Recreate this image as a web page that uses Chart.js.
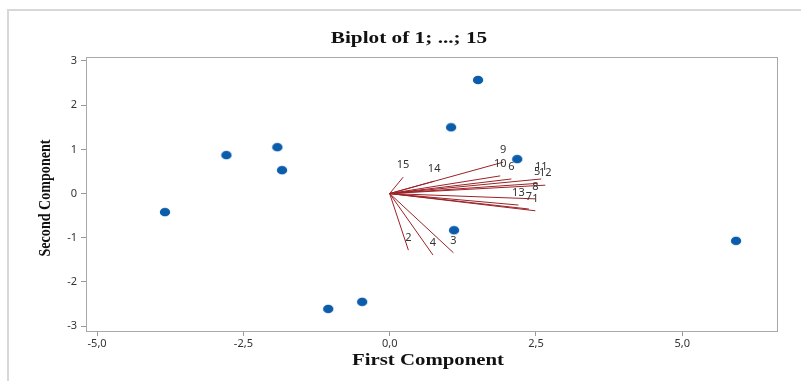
<!DOCTYPE html>
<html>
<head>
<meta charset="utf-8">
<script src="https://cdn.jsdelivr.net/npm/chart.js@4/dist/chart.umd.min.js"></script>
<style>
  html, body { margin: 0; padding: 0; background: #fff; }
  #wrap { width: 801px; height: 381px; }
</style>
</head>
<body>
<div id="wrap"><canvas id="biplot" width="801" height="381"></canvas></div>
<script>
// Scores (observations)
const scoreX = [1.51, 1.05, -1.92, -2.79, -1.84, -3.84, 2.18, 1.10, 5.92, -0.47, -1.05];
const scoreY = [2.57, 1.50, 1.05, 0.87, 0.53, -0.42, 0.78, -0.83, -1.07, -2.45, -2.61];

// Loadings (variables 1..15)
const loadNames = ["1", "2", "3", "4", "5", "6", "7", "8", "9", "10", "11", "12", "13", "14", "15"];
const loadX = [2.49, 0.32, 1.09, 0.74, 2.52, 2.08, 2.38, 2.49, 1.94, 1.89, 2.59, 2.66, 2.20, 0.76, 0.23];
const loadY = [-0.39, -1.28, -1.34, -1.39, 0.23, 0.33, -0.35, -0.12, 0.71, 0.40, 0.33, 0.19, -0.26, 0.28, 0.37];

// Tick labels
const xTicks = [-5, -2.5, 0, 2.5, 5];
const yTicks = [-3, -2, -1, 0, 1, 2, 3];

const RED = "#9b2226";
const BLUE = "#0b5cab";

// ellipse marker, a bit wider than tall like the original
function dotImage() {
  const c = document.createElement("canvas");
  c.width = 12; c.height = 10;
  const g = c.getContext("2d");
  g.fillStyle = BLUE;
  g.beginPath();
  g.ellipse(6, 5, 5.2, 4.3, 0, 0, Math.PI * 2);
  g.fill();
  return c;
}

const datasets = [];
datasets.push({
  label: "scores",
  data: scoreX.map((x, i) => ({ x: x, y: scoreY[i] })),
  pointStyle: dotImage(),
  showLine: false,
  order: 0
});
loadX.forEach((x, i) => {
  datasets.push({
    label: "v" + loadNames[i],
    data: [{ x: 0, y: 0 }, { x: x, y: loadY[i] }],
    showLine: true,
    borderColor: RED,
    borderWidth: 1,
    pointRadius: 0,
    order: 1
  });
});

// stretched serif text, the original titles are wide (or narrow for the y one)
function wideText(ctx, txt, x, y, size, sx, rot) {
  ctx.save();
  ctx.translate(x, y);
  if (rot) ctx.rotate(rot);
  ctx.scale(sx, 1);
  ctx.font = "bold " + size + "px 'Liberation Serif', 'Times New Roman', serif";
  ctx.fillText(txt, 0, 0);
  ctx.restore();
}

// outer frame, plot box, titles and vector labels
const decor = {
  id: "decor",
  beforeDraw(chart) {
    const ctx = chart.ctx;
    ctx.save();
    ctx.strokeStyle = "#d8d8d8";
    ctx.lineWidth = 2;
    ctx.strokeRect(8, 10, 900, 900);
    ctx.restore();
  },
  afterDraw(chart) {
    const ctx = chart.ctx;
    const a = chart.chartArea;
    const xs = chart.scales.x, ys = chart.scales.y;
    ctx.save();
    ctx.strokeStyle = "#a8a8a8";
    ctx.lineWidth = 1;
    ctx.strokeRect(a.left + 0.5, a.top + 0.5, a.right - a.left, a.bottom - a.top);

    ctx.fillStyle = "#111";
    ctx.textAlign = "center";
    ctx.textBaseline = "middle";
    wideText(ctx, "Biplot of 1; ...; 15", 409, 39, 17, 1.25, 0);
    wideText(ctx, "First Component", 428, 361, 16, 1.3, 0);
    wideText(ctx, "Second Component", 46, 198, 16, 0.88, -Math.PI / 2);

    ctx.fillStyle = "#333";
    ctx.font = "11px 'Noto Sans', 'DejaVu Sans', sans-serif";
    loadNames.forEach((n, i) => {
      const px = xs.getPixelForValue(loadX[i]);
      const py = ys.getPixelForValue(loadY[i]);
      ctx.fillText(n, px, py - 12);
    });
    ctx.restore();
  }
};

const tickFont = { family: "'Noto Sans', 'DejaVu Sans', sans-serif", size: 11 };

new Chart(document.getElementById("biplot"), {
  type: "scatter",
  data: { datasets: datasets },
  options: {
    responsive: false,
    animation: false,
    layout: { padding: { left: 0, right: 24, top: 57, bottom: 0 } },
    plugins: {
      legend: { display: false },
      tooltip: { enabled: false },
      title: { display: false }
    },
    scales: {
      x: {
        type: "linear",
        min: -5.19,
        max: 6.62,
        afterBuildTicks: s => { s.ticks = xTicks.map(v => ({ value: v })); },
        afterFit: s => { s.height = 50; },
        ticks: {
          color: "#333",
          font: tickFont,
          padding: 1,
          maxRotation: 0,
          callback: v => v.toFixed(1).replace(".", ",")
        },
        grid: { drawOnChartArea: false, drawTicks: true, tickLength: 5, color: "#999" },
        border: { color: "#a8a8a8" }
      },
      y: {
        type: "linear",
        min: -3.11,
        max: 3.09,
        afterBuildTicks: s => { s.ticks = yTicks.map(v => ({ value: v })); },
        afterFit: s => { s.width = 86; },
        ticks: { color: "#333", font: tickFont, padding: 4 },
        grid: { drawOnChartArea: false, drawTicks: true, tickLength: 5, color: "#999" },
        border: { color: "#a8a8a8" }
      }
    }
  },
  plugins: [decor]
});
</script>
</body>
</html>
